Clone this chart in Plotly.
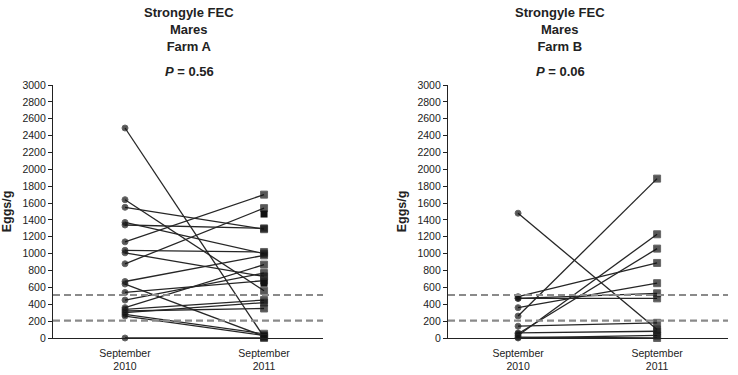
import plotly.graph_objects as go

categories = ["September<br>2010", "September<br>2011"]
y_ticks = list(range(0, 3001, 200))

farm_a_2010 = [2490, 1640, 1550, 1370, 1340, 1140, 1040, 1010, 880, 670, 640, 540, 450, 360, 340, 320, 300, 280, 260, 0]
farm_a_2011 = [10, 560, 1290, 1000, 1300, 1700, 1020, 730, 1540, 980, 20, 680, 770, 870, 450, 350, 420, 50, 30, 0]
farm_a_extra_2011 = [1470, 650]

farm_b_2010 = [1480, 260, 30, 50, 490, 470, 470, 360, 140, 60, 0, 10]
farm_b_2011 = [100, 1890, 1230, 1060, 890, 530, 470, 650, 180, 80, 30, 0]

thresholds = [510, 205]
p_values = ["0.56", "0.06"]
farm_names = ["Farm A", "Farm B"]

W, H = 738, 375
panels = [
    dict(x0=53, x1=323, xr=[-0.518, 1.424], center=189),
    dict(x0=448, x1=728, xr=[-0.504, 1.51], center=560),
]
ytop, ybot = 85, 338

fig = go.Figure()
line_col = "#262626"

def add_panel(idx, v10, v11, extra=None):
    xa = "x" if idx == 0 else "x2"
    ya = "y" if idx == 0 else "y2"
    for a, b in zip(v10, v11):
        fig.add_trace(go.Scatter(
            x=[0, 1], y=[a, b], mode="lines+markers", xaxis=xa, yaxis=ya,
            line=dict(color=line_col, width=1.3),
            marker=dict(symbol=["circle", "square"], size=[6, 7], color="#111111"),
            showlegend=False, hoverinfo="skip", cliponaxis=False))
    if extra:
        fig.add_trace(go.Scatter(
            x=[1] * len(extra), y=extra, mode="markers", xaxis=xa, yaxis=ya,
            marker=dict(symbol="square", size=7, color="#111111"),
            showlegend=False, hoverinfo="skip", cliponaxis=False))
    for t in thresholds:
        fig.add_trace(go.Scatter(
            x=[panels[idx]["xr"][0], panels[idx]["xr"][1]], y=[t, t], mode="lines",
            xaxis=xa, yaxis=ya, line=dict(color="#8a8a8a", width=2.2, dash="7px,4px"),
            showlegend=False, hoverinfo="skip", cliponaxis=False))

add_panel(0, farm_a_2010, farm_a_2011, farm_a_extra_2011)
add_panel(1, farm_b_2010, farm_b_2011)

font = "Liberation Sans, Arial, sans-serif"
common_y = dict(range=[0, 3000], tickvals=y_ticks, showline=True, linecolor="#222", linewidth=1.2,
                ticks="outside", ticklen=4, tickcolor="#222", showgrid=False, zeroline=False,
                automargin=False,
                tickfont=dict(size=10.5, color="#222", family=font),
                title=dict(text="<b>Eggs/g</b>", font=dict(size=12.5, color="#222", family=font), standoff=8))
common_x = dict(tickvals=[0, 1], ticktext=categories, showline=True, linecolor="#222", linewidth=1.2,
                ticks="", showgrid=False, zeroline=False, automargin=False, ticklabelstandoff=5,
                tickfont=dict(size=10.5, color="#222", family=font))

def fx(px):
    return px / W

def fy(py):
    return 1 - py / H

fig.update_layout(
    width=W, height=H, margin=dict(l=0, r=0, t=0, b=0),
    paper_bgcolor="white", plot_bgcolor="white",
    xaxis=dict(domain=[fx(panels[0]["x0"]), fx(panels[0]["x1"])], range=panels[0]["xr"], anchor="y", **common_x),
    xaxis2=dict(domain=[fx(panels[1]["x0"]), fx(panels[1]["x1"])], range=panels[1]["xr"], anchor="y2", **common_x),
    yaxis=dict(domain=[fy(ybot), fy(ytop)], anchor="x", **common_y),
    yaxis2=dict(domain=[fy(ybot), fy(ytop)], anchor="x2", **common_y),
)

for i, p in enumerate(panels):
    fig.add_annotation(x=fx(p["center"]), y=fy(29), xref="paper", yref="paper", showarrow=False,
                       xanchor="center", yanchor="middle",
                       text="<b>Strongyle FEC<br>Mares<br>" + farm_names[i] + "</b>",
                       font=dict(size=13, color="#222", family=font), align="center")
    fig.add_annotation(x=fx(p["center"]), y=fy(72), xref="paper", yref="paper", showarrow=False,
                       xanchor="center", yanchor="middle",
                       text="<b><i>P</i> = " + p_values[i] + "</b>",
                       font=dict(size=13, color="#222", family=font))

fig.write_html("out.html", config={"displayModeBar": False},
               post_script="document.body.style.margin='0';document.body.style.overflow='hidden';")
